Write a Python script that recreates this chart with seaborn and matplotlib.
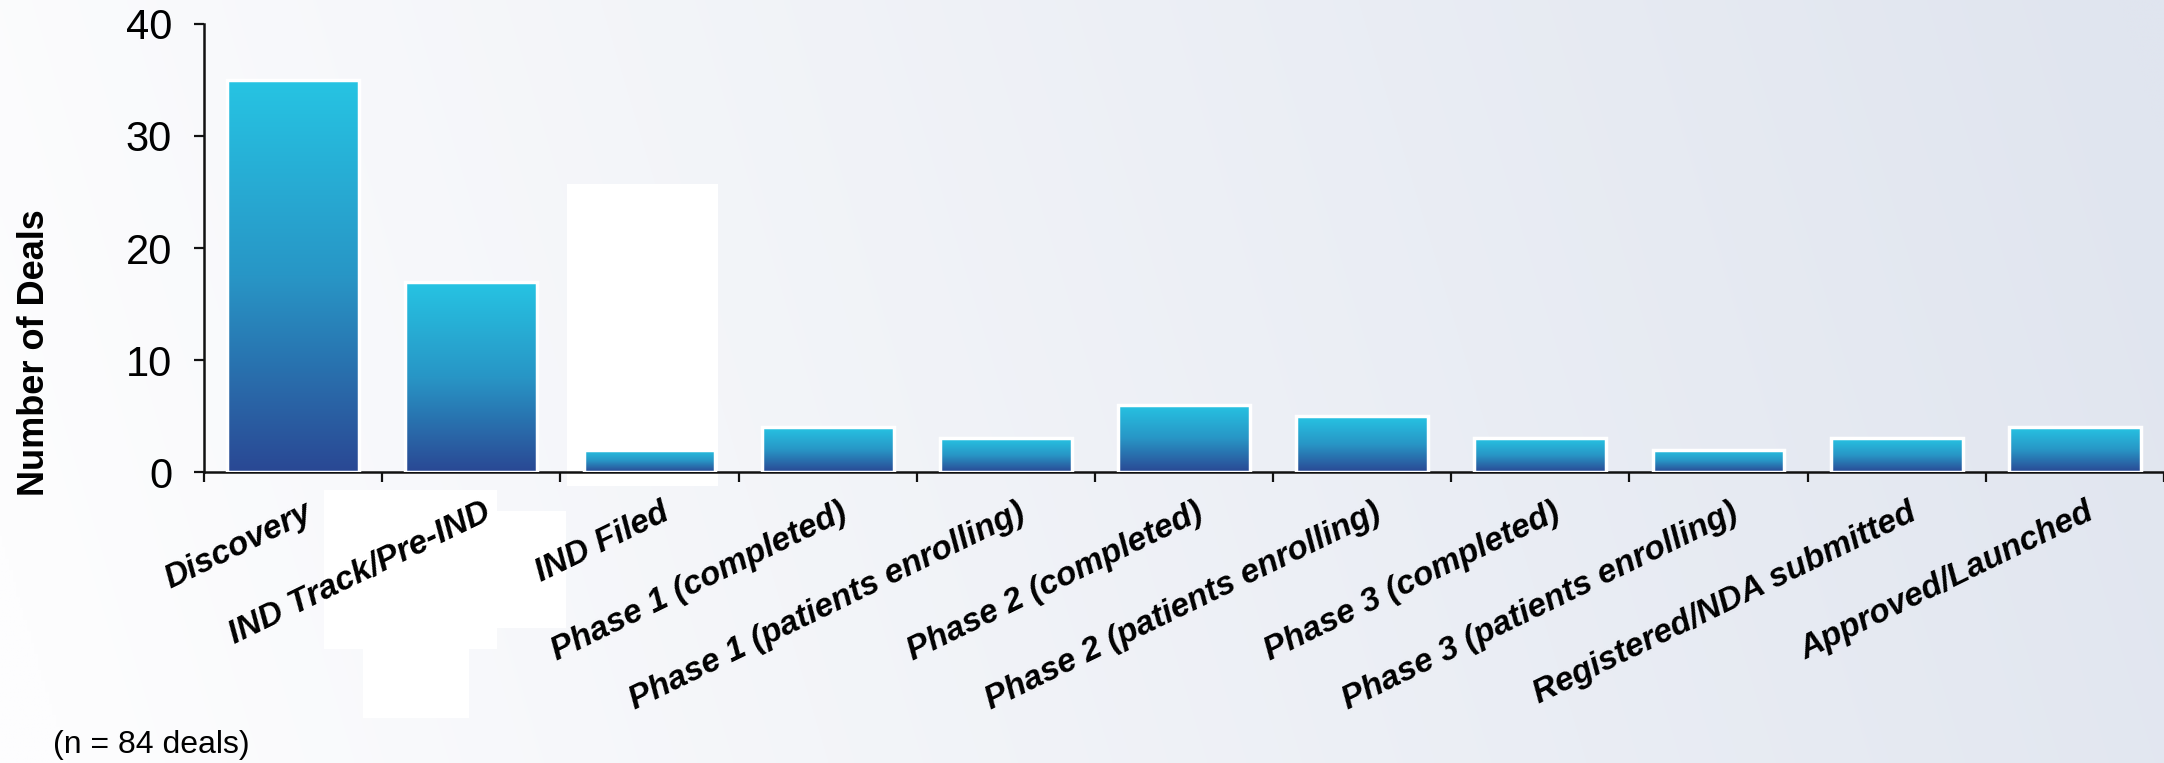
import numpy as np
import pandas as pd
import matplotlib
matplotlib.use("Agg")
import matplotlib.pyplot as plt
import seaborn as sns
from matplotlib.colors import LinearSegmentedColormap
from matplotlib.patches import Rectangle

# ---- data ----
stages = [
    "Discovery",
    "IND Track/Pre-IND",
    "IND Filed",
    "Phase 1 (completed)",
    "Phase 1 (patients enrolling)",
    "Phase 2 (completed)",
    "Phase 2 (patients enrolling)",
    "Phase 3 (completed)",
    "Phase 3 (patients enrolling)",
    "Registered/NDA submitted",
    "Approved/Launched",
]
deals = [35, 17, 2, 4, 3, 6, 5, 3, 2, 3, 4]
y_ticks = [0, 10, 20, 30, 40]
y_label = "Number of Deals"
footnote = "(n = 84 deals)"

W, H = 2164, 763

sns.set_style("ticks")
plt.rcParams["font.family"] = ["Liberation Sans", "DejaVu Sans"]
plt.rcParams["text.color"] = "black"
plt.rcParams["xtick.color"] = "black"
plt.rcParams["ytick.color"] = "black"
plt.rcParams["xtick.labelcolor"] = "black"
plt.rcParams["ytick.labelcolor"] = "black"

fig = plt.figure(figsize=(W / 100, H / 100), dpi=100)

# ---- slide background: soft left-to-right gradient ----
bg = fig.add_axes([0, 0, 1, 1], zorder=-5)
bg.set_axis_off()
xx, yy = np.meshgrid(np.linspace(0, 1, 600), np.linspace(0, 1, 200))
t = np.clip(0.95 * xx + 0.10 * (1 - yy) - 0.03, 0, 1)
left = np.array([253, 253, 254]) / 255
right = np.array([224, 229, 239]) / 255
rgb = left[None, None, :] * (1 - t[..., None]) + right[None, None, :] * t[..., None]
bg.imshow(rgb, extent=(0, W, H, 0), aspect="auto", interpolation="bilinear")
for (x0, y0, w, h) in [(567, 184, 151, 302), (324, 490, 173, 159),
                       (363, 607, 106, 111), (497, 511, 69, 117)]:
    bg.add_patch(Rectangle((x0, y0), w, h, facecolor="white", edgecolor="none"))
bg.set_xlim(0, W)
bg.set_ylim(H, 0)

# ---- bar chart ----
ax = fig.add_axes([204 / W, 291 / H, 1 - 204 / W, 448 / H])
ax.patch.set_alpha(0)
df = pd.DataFrame({"stage": stages, "deals": deals})
sns.barplot(data=df, x="stage", y="deals", ax=ax, width=0.74,
            color="#2886bc", edgecolor="white", linewidth=2.5, zorder=3)

cmap = LinearSegmentedColormap.from_list("deal", ["#2a4894", "#2896c6", "#26c4e3"])
grad = np.linspace(0, 1, 256).reshape(-1, 1)
for bar in list(ax.patches):
    x0, w, h = bar.get_x(), bar.get_width(), bar.get_height()
    ax.imshow(grad, cmap=cmap, origin="lower", extent=(x0, x0 + w, 0, h),
              aspect="auto", zorder=2, interpolation="bicubic")
    bar.set_facecolor("none")

n = len(stages)
ax.set_xlim(-0.5, n - 0.5)
ax.set_ylim(0, 40)
ax.set_xlabel("")
ax.set_ylabel("")

# ticks between categories, labels under each bar
ax.set_xticks(np.arange(n + 1) - 0.5, [""] * (n + 1))
ax.set_xticks(np.arange(n) + 0.06, stages, minor=True, rotation=26, ha="right",
              rotation_mode="anchor", fontweight="bold", fontstyle="italic",
              fontsize=24, color="black")
ax.tick_params(axis="x", which="minor", length=0, pad=18)
ax.tick_params(axis="x", which="major", length=7, width=1.6, direction="out",
               color="#111111")

ax.set_yticks(y_ticks)
ax.tick_params(axis="y", length=7, width=1.6, pad=16, color="#111111")
for lbl in ax.get_yticklabels():
    lbl.set_fontfamily(["Liberation Sans Narrow", "Liberation Sans"])
    lbl.set_fontsize(30)
    lbl.set_color("black")

sns.despine(ax=ax)
for side in ("left", "bottom"):
    ax.spines[side].set_linewidth(1.8)
    ax.spines[side].set_color("#111111")

fig.text(35 / W, 1 - 353 / H, y_label, rotation=90, ha="center", va="center",
         fontsize=26, fontweight="bold", color="black")
fig.text(53 / W, 1 - 745 / H, footnote, ha="left", va="center", fontsize=23,
         color="black")

fig.savefig("out.png", dpi=100)
